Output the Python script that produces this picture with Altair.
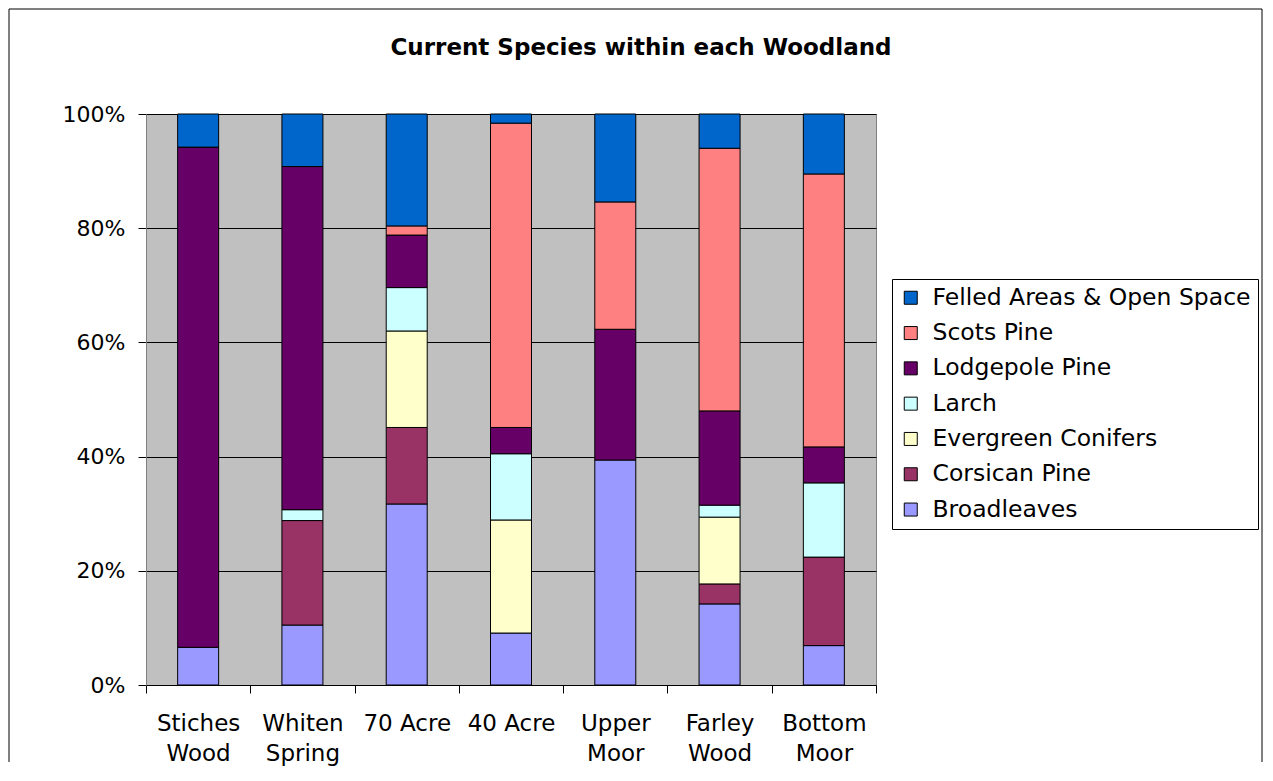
import altair as alt
import pandas as pd

woods = ["Stiches Wood", "Whiten Spring", "70 Acre", "40 Acre",
         "Upper Moor", "Farley Wood", "Bottom Moor"]
species = ["Broadleaves", "Corsican Pine", "Evergreen Conifers", "Larch",
           "Lodgepole Pine", "Scots Pine", "Felled Areas & Open Space"]
colors = ["#9999FF", "#993366", "#FFFFCC", "#CCFFFF",
          "#660066", "#FF8080", "#0066CC"]

broadleaves = [6.6, 10.5, 31.7, 9.1, 39.4, 14.2, 6.9]
corsican = [0.0, 18.3, 13.4, 0.0, 0.0, 3.5, 15.5]
evergreen = [0.0, 0.0, 16.9, 19.8, 0.0, 11.7, 0.0]
larch = [0.0, 1.9, 7.6, 11.6, 0.0, 2.1, 13.0]
lodgepole = [87.6, 60.1, 9.2, 4.6, 22.9, 16.5, 6.3]
scots = [0.0, 0.0, 1.6, 53.3, 22.3, 46.0, 47.8]
felled = [5.8, 9.2, 19.6, 1.6, 15.4, 6.0, 10.5]

series = [broadleaves, corsican, evergreen, larch, lodgepole, scots, felled]

rows = []
for si, (sp, vals) in enumerate(zip(species, series)):
    for w, v in zip(woods, vals):
        if v > 0:
            rows.append({"wood": w, "species": sp, "value": v, "order": si})
df = pd.DataFrame(rows)

legend_order = species[::-1]
legend_colors = colors[::-1]

FONT = "DejaVu Sans"
W, H = 730, 571

bars = alt.Chart(df).mark_bar(stroke="black", strokeWidth=1, size=41).encode(
    x=alt.X("wood:N", sort=woods, title=None,
            scale=alt.Scale(paddingInner=0, paddingOuter=0),
            axis=alt.Axis(labelAngle=0, tickBand="extent", grid=False,
                          labelFontSize=23, labelFont=FONT, labelColor="black",
                          labelPadding=19, labelLineHeight=30.5, labelBaseline="top",
                          labelExpr="indexof(datum.label, 'Acre') >= 0 ? datum.label : split(datum.label, ' ')",
                          tickSize=8, tickColor="black", domainColor="black")),
    y=alt.Y("value:Q", stack="normalize", title=None,
            scale=alt.Scale(domain=[0, 1], nice=False),
            axis=alt.Axis(values=[0, 0.2, 0.4, 0.6, 0.8, 1.0], format=".0%",
                          labelFontSize=22, labelFont=FONT, labelColor="black",
                          labelPadding=13, tickSize=8, tickColor="black",
                          domainColor="#808080", grid=True, gridColor="black",
                          gridWidth=1)),
    color=alt.Color("species:N",
                    scale=alt.Scale(domain=legend_order, range=legend_colors),
                    legend=alt.Legend(title=None, orient="none", legendX=746, legendY=165,
                                      padding=7, strokeColor="black", symbolType="square",
                                      symbolSize=169, symbolStrokeColor="black",
                                      symbolStrokeWidth=1, labelFontSize=23.5,
                                      labelFont=FONT, labelColor="black",
                                      labelLimit=420, labelOffset=10, rowPadding=10.3)),
    order=alt.Order("order:Q", sort="ascending"),
)

one = pd.DataFrame({"k": [0]})

title = alt.Chart(one).mark_text(
    font=FONT, fontSize=23, fontWeight="bold", color="black",
    align="center", baseline="middle"
).encode(x=alt.value(495), y=alt.value(-66),
         text=alt.value("Current Species within each Woodland"))

frame_left = alt.Chart(one).mark_rule(color="black", strokeWidth=1).encode(
    x=alt.value(-137), y=alt.value(-105), y2=alt.value(648))
frame_top = alt.Chart(one).mark_rule(color="black", strokeWidth=1).encode(
    x=alt.value(-137), x2=alt.value(1116), y=alt.value(-105))
frame_right = alt.Chart(one).mark_rule(color="black", strokeWidth=1).encode(
    x=alt.value(1116), y=alt.value(-105), y2=alt.value(648))

chart = alt.layer(bars, title, frame_left, frame_top, frame_right).properties(
    width=W, height=H, padding=0, background="white"
).configure_view(
    fill="#C0C0C0", stroke="#808080", strokeWidth=1
)

chart.save("out.html", embed_options={"renderer": "svg", "actions": False})
